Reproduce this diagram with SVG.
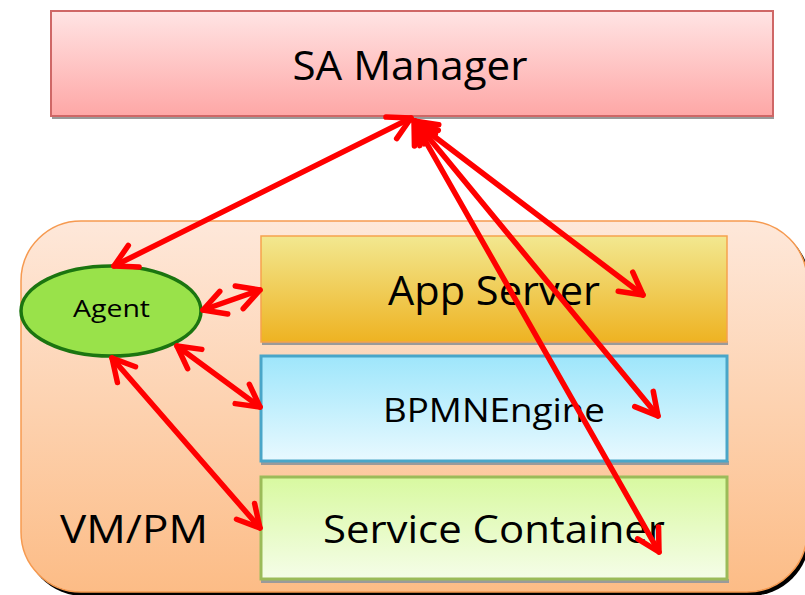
<svg xmlns="http://www.w3.org/2000/svg" width="805" height="595" viewBox="0 0 805 595">
  <defs>
    <linearGradient id="gMgr" x1="0" y1="0" x2="0" y2="1">
      <stop offset="0" stop-color="#ffe4e4"/>
      <stop offset="1" stop-color="#fea7a6"/>
    </linearGradient>
    <linearGradient id="gHost" x1="0" y1="0" x2="0" y2="1">
      <stop offset="0" stop-color="#fee8da"/>
      <stop offset="1" stop-color="#fcbc86"/>
    </linearGradient>
    <linearGradient id="gApp" x1="0" y1="0" x2="0" y2="1">
      <stop offset="0" stop-color="#f2e890"/>
      <stop offset="1" stop-color="#eeb322"/>
    </linearGradient>
    <linearGradient id="gBpmn" x1="0" y1="0" x2="0" y2="1">
      <stop offset="0" stop-color="#9ee6fb"/>
      <stop offset="1" stop-color="#e8f9ff"/>
    </linearGradient>
    <linearGradient id="gSvc" x1="0" y1="0" x2="0" y2="1">
      <stop offset="0" stop-color="#d8f9a0"/>
      <stop offset="1" stop-color="#f5fde8"/>
    </linearGradient>
    <marker id="head" markerUnits="userSpaceOnUse" viewBox="-28 -18 32 36" refX="0" refY="0" markerWidth="32" markerHeight="36" orient="auto-start-reverse">
      <path d="M-22,-12 L0,0 L-22,12" fill="none" stroke="#ff0000" stroke-width="5.5" stroke-linecap="round" stroke-linejoin="round"/>
    </marker>
  </defs>
  <style>
    text { font-family: "Open Sans", "Liberation Sans", sans-serif; fill: #000; }
    .shadow { fill: #9a9a9a; }
    .link { stroke: #ff0000; stroke-width: 5.5; fill: none; stroke-linecap: round; }
  </style>

  <!-- SA Manager -->
  <g id="sa-manager">
    <rect class="shadow" x="52" y="115" width="722" height="4"/>
    <rect x="51" y="11" width="722" height="105" fill="url(#gMgr)" stroke="#cf6766" stroke-width="2"/>
    <text x="410" y="80" font-size="40" text-anchor="middle" textLength="235" lengthAdjust="spacingAndGlyphs">SA Manager</text>
  </g>

  <!-- VM/PM host -->
  <g id="vm-pm">
    <rect x="24" y="224" width="786" height="372" rx="60" fill="#000"/>
    <rect x="21" y="221" width="786" height="371" rx="60" fill="url(#gHost)" stroke="#f69a50" stroke-width="1.5"/>
    <text x="60" y="543" font-size="39" textLength="148" lengthAdjust="spacingAndGlyphs">VM/PM</text>
  </g>

  <!-- App Server -->
  <g id="app-server">
    <rect class="shadow" x="262" y="341" width="466" height="4"/>
    <rect x="261" y="236" width="466" height="106" fill="url(#gApp)" stroke="#f6a24e" stroke-width="1.5"/>
    <text x="388" y="305" font-size="40" textLength="212" lengthAdjust="spacingAndGlyphs">App Server</text>
  </g>

  <!-- BPMNEngine -->
  <g id="bpmn-engine">
    <rect class="shadow" x="261" y="461" width="468" height="4"/>
    <rect x="261" y="356" width="466" height="105" fill="url(#gBpmn)" stroke="#4aa6c8" stroke-width="3"/>
    <text x="383" y="422" font-size="33" textLength="222" lengthAdjust="spacingAndGlyphs">BPMNEngine</text>
  </g>

  <!-- Service Container -->
  <g id="service-container">
    <rect class="shadow" x="261" y="579" width="468" height="4"/>
    <rect x="261" y="477" width="466" height="102" fill="url(#gSvc)" stroke="#9bbb59" stroke-width="3"/>
    <text x="323" y="543" font-size="39" textLength="342" lengthAdjust="spacingAndGlyphs">Service Container</text>
  </g>

  <!-- Agent -->
  <g id="agent">
    <ellipse cx="111" cy="311" rx="90" ry="45" fill="#99e24a" stroke="#1b7510" stroke-width="3.5"/>
    <text x="73" y="317" font-size="24" textLength="77" lengthAdjust="spacingAndGlyphs">Agent</text>
  </g>

  <!-- Connectors -->
  <g id="connectors">
    <line class="link" x1="411" y1="118" x2="114" y2="266" marker-start="url(#head)" marker-end="url(#head)"/>
    <line class="link" x1="414" y1="121" x2="643" y2="295" marker-start="url(#head)" marker-end="url(#head)"/>
    <line class="link" x1="415" y1="121" x2="658" y2="416" marker-start="url(#head)" marker-end="url(#head)"/>
    <line class="link" x1="414" y1="121" x2="659" y2="552" marker-start="url(#head)" marker-end="url(#head)"/>
    <line class="link" x1="203" y1="310" x2="260" y2="290" marker-start="url(#head)" marker-end="url(#head)"/>
    <line class="link" x1="177" y1="346" x2="260" y2="407" marker-start="url(#head)" marker-end="url(#head)"/>
    <line class="link" x1="112" y1="358" x2="260" y2="528" marker-start="url(#head)" marker-end="url(#head)"/>
  </g>
</svg>
